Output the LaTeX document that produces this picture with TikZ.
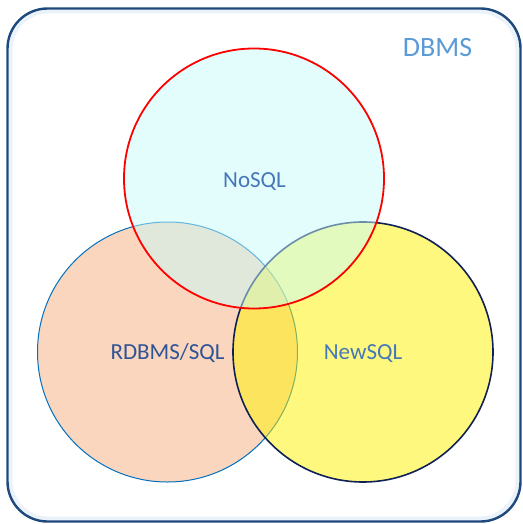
\documentclass[tikz,border=0pt]{standalone}
\usepackage{fontspec}
\setmainfont{Carlito}
\definecolor{framecol}{RGB}{31,73,125}
\definecolor{glowcol}{RGB}{234,242,250}
\definecolor{peach}{RGB}{250,214,190}
\definecolor{sqlblue}{RGB}{0,112,192}
\definecolor{navy}{RGB}{16,32,84}
\definecolor{paleaqua}{RGB}{199,251,251}
\definecolor{dbmsblue}{RGB}{91,155,213}
\definecolor{labelblue}{RGB}{70,120,185}
\definecolor{darklabel}{RGB}{47,84,150}
\tikzset{
  setcircle/.style={circle, minimum size=260pt, inner sep=0pt, outer sep=0pt},
  setlabel/.style={anchor=base, inner sep=0pt, font=\fontsize{23}{26}\selectfont},
}
\begin{document}
\begin{tikzpicture}[x=1pt, y=-1pt]
  \useasboundingbox (0,0) rectangle (522,524);
  % outer DBMS frame with a soft inner halo
  \draw[glowcol, line width=4pt, rounded corners=38pt] (10.5,11.5) rectangle (517.5,518.5);
  \draw[framecol, line width=2.4pt, rounded corners=40pt] (7.5,8.5) rectangle (520.5,521.5);
  \node[font=\fontsize{28}{32}\selectfont, text=dbmsblue, anchor=base, inner sep=0pt] (dbms) at (437.5,57) {DBMS};
  % the three sets, bottom to top
  \node[setcircle, fill=peach, draw=sqlblue, line width=1pt] (rdbms) at (167.5,352) {};
  \node[setcircle, fill=yellow, fill opacity=0.5, draw=navy, line width=1.6pt] (newsql) at (363,352) {};
  \node[setcircle, fill=paleaqua, fill opacity=0.5, draw=red, line width=1.8pt] (nosql) at (254,178.5) {};
  % set labels
  \node[setlabel, text=labelblue] (nosqllbl) at (254.5,187) {NoSQL};
  \node[setlabel, text=darklabel] (rdbmslbl) at (167.5,359) {RDBMS/SQL};
  \node[setlabel, text=labelblue] (newsqllbl) at (363,359) {NewSQL};
\end{tikzpicture}
\end{document}
